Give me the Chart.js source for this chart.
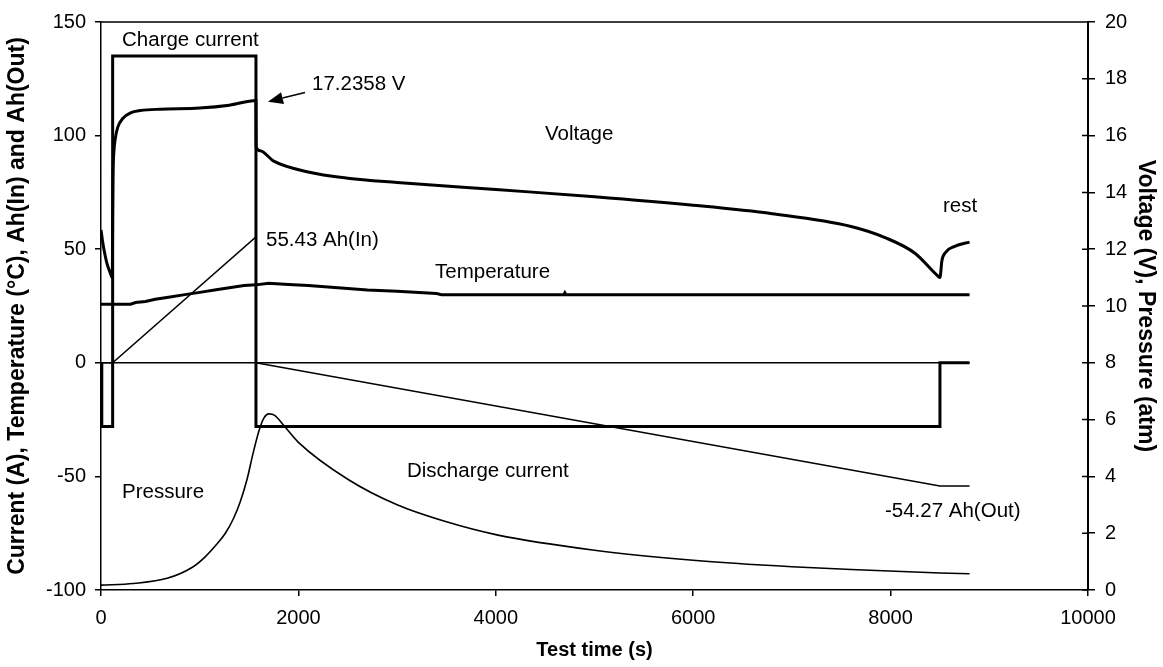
<!DOCTYPE html>
<html>
<head>
<meta charset="utf-8">
<script src="https://cdn.jsdelivr.net/npm/chart.js@4.4.0/dist/chart.umd.min.js"></script>
<style>
  html, body { margin: 0; padding: 0; background: #fff; }
  #wrap { width: 1163px; height: 667px; }
</style>
</head>
<body>
<div id="wrap"><canvas id="chart" width="1163" height="667"></canvas></div>
<script>
// Test time (s) / value pairs
const currentTime = [0, 8, 8, 118, 118, 1570, 1570, 8500, 8500, 8800];
const currentVal  = [0, 0, -28, -28, 135, 135, -28, -28, 0, 0];

const ahInTime = [0, 118, 1570, 1570, 8800];
const ahInVal  = [0, 0, 55.43, 0, 0];

const ahOutTime = [0, 1570, 8500, 8800];
const ahOutVal  = [0, 0, -54.27, -54.27];

const tempTime = [0, 300, 350, 450, 550, 700, 850, 1000, 1150, 1300, 1450, 1570, 1700, 1900, 2100, 2400, 2700, 3000, 3400, 3450, 4690, 4700, 4710, 8800];
const tempVal  = [25.8, 25.8, 26.5, 27, 28, 29, 30, 31, 32, 33, 34, 34.3, 35, 34.5, 34, 33, 32, 31.5, 30.5, 30, 30, 30.8, 30, 30];

// right axis (V)
const voltTime = [0, 15, 35, 60, 90, 115, 118, 122, 130, 145, 170, 220, 300, 400, 600, 1000, 1300, 1570, 1572, 1611, 1750, 2087, 2500, 3000, 4000, 5000, 6000, 6800, 7600, 7950, 8250, 8480, 8500, 8520, 8560, 8650, 8800];
const voltVal  = [12.68, 12.3, 11.9, 11.5, 11.2, 11.0, 13.0, 14.6, 15.4, 15.9, 16.3, 16.6, 16.8, 16.88, 16.93, 16.97, 17.07, 17.2358, 15.6, 15.47, 15.1, 14.73, 14.5, 14.35, 14.1, 13.85, 13.55, 13.25, 12.8, 12.4, 11.85, 11.05, 11.0, 11.6, 11.9, 12.1, 12.25];

// right axis (atm)
const presTime = [0, 330, 670, 930, 1050, 1170, 1260, 1340, 1410, 1480, 1540, 1600, 1650, 1700, 1760, 1850, 2000, 2500, 3000, 3500, 4000, 5000, 6000, 7000, 7600, 8500, 8800];
const presVal  = [0.17, 0.23, 0.41, 0.81, 1.15, 1.6, 2.0, 2.5, 3.1, 3.9, 4.8, 5.6, 6.05, 6.2, 6.15, 5.8, 5.2, 3.9, 3.0, 2.4, 1.95, 1.4, 1.05, 0.82, 0.72, 0.6, 0.57];

// text labels, placed in (time, left-axis) coordinates
const noteText = ['Charge current', '17.2358 V', 'Voltage', 'rest', '55.43 Ah(In)', 'Temperature', 'Discharge current', 'Pressure', '-54.27 Ah(Out)'];
const noteX    = [213, 2138, 4498, 8531, 1672, 3384, 3100, 213, 7943];
const noteY    = [142, 122.5, 100.7, 68.8, 54.0, 39.6, -47.6, -57.2, -65.5];

// arrow to the end-of-charge voltage
const arrowX = [2067, 1692];
const arrowY = [119, 114.9];

function pairs(xs, ys) {
  return xs.map((x, i) => ({ x: x, y: ys[i] }));
}

const FONT = 'Liberation Sans, Arial, sans-serif';
Chart.defaults.font.family = FONT;
Chart.defaults.color = '#000';

const frameAndNotes = {
  id: 'frameAndNotes',
  afterDatasetsDraw(chart) {
    const ctx = chart.ctx;
    const a = chart.chartArea;
    const xs = chart.scales.x, ys = chart.scales.y, r = chart.scales.y2;
    ctx.save();
    ctx.strokeStyle = '#000';
    ctx.lineWidth = 1.5;
    ctx.beginPath();
    ctx.moveTo(a.left, a.top);
    ctx.lineTo(a.right, a.top);
    // right axis ticks cross the axis line
    r.ticks.forEach(t => {
      const py = r.getPixelForValue(t.value);
      ctx.moveTo(a.right - 6, py);
      ctx.lineTo(a.right, py);
    });
    ctx.stroke();

    ctx.fillStyle = '#000';
    ctx.font = '20.5px ' + FONT;
    ctx.textBaseline = 'middle';
    ctx.textAlign = 'left';
    noteText.forEach((t, i) => {
      ctx.fillText(t, xs.getPixelForValue(noteX[i]), ys.getPixelForValue(noteY[i]));
    });

    const x0 = xs.getPixelForValue(arrowX[0]), y0 = ys.getPixelForValue(arrowY[0]);
    const x1 = xs.getPixelForValue(arrowX[1]), y1 = ys.getPixelForValue(arrowY[1]);
    const ang = Math.atan2(y1 - y0, x1 - x0);
    const head = 15, half = 6;
    const bx = x1 - head * Math.cos(ang), by = y1 - head * Math.sin(ang);
    ctx.lineWidth = 1.5;
    ctx.beginPath();
    ctx.moveTo(x0, y0);
    ctx.lineTo(bx, by);
    ctx.stroke();
    ctx.beginPath();
    ctx.moveTo(x1, y1);
    ctx.lineTo(bx + half * Math.sin(ang), by - half * Math.cos(ang));
    ctx.lineTo(bx - half * Math.sin(ang), by + half * Math.cos(ang));
    ctx.closePath();
    ctx.fill();
    ctx.restore();
  }
};

function line(label, xs, ys, axis, width, smooth) {
  return {
    label: label,
    data: pairs(xs, ys),
    yAxisID: axis,
    showLine: true,
    borderColor: '#000',
    backgroundColor: '#000',
    borderWidth: width,
    pointRadius: 0,
    tension: smooth ? 0.4 : 0,
    cubicInterpolationMode: smooth ? 'monotone' : 'default',
    borderJoinStyle: 'miter',
    fill: false
  };
}

new Chart(document.getElementById('chart').getContext('2d'), {
  type: 'scatter',
  data: {
    datasets: [
      line('Ah(In)', ahInTime, ahInVal, 'y', 1.5, false),
      line('Ah(Out)', ahOutTime, ahOutVal, 'y', 1.5, false),
      line('Pressure', presTime, presVal, 'y2', 1.6, true),
      line('Temperature', tempTime, tempVal, 'y', 3, false),
      line('Voltage', voltTime, voltVal, 'y2', 3, true),
      line('Current', currentTime, currentVal, 'y', 3, false)
    ]
  },
  options: {
    responsive: false,
    animation: false,
    layout: { padding: { top: 17, left: 0, right: 0, bottom: 0 } },
    plugins: {
      legend: { display: false },
      tooltip: { enabled: false }
    },
    scales: {
      x: {
        type: 'linear',
        position: 'bottom',
        min: 0,
        max: 10000,
        ticks: { stepSize: 2000, font: { size: 20 }, padding: 10, maxRotation: 0, callback: v => String(v) },
        grid: { drawOnChartArea: false, drawTicks: true, tickLength: 6, color: '#000', lineWidth: 1.5 },
        border: { display: true, color: '#000', width: 1.5 },
        title: { display: true, text: 'Test time (s)', font: { size: 20, weight: 'bold' }, padding: { top: 0, bottom: 5 } },
        afterFit(s) { s.height = 77; }
      },
      y: {
        type: 'linear',
        position: 'left',
        min: -100,
        max: 150,
        ticks: { stepSize: 50, font: { size: 20 }, padding: 9 },
        grid: { drawOnChartArea: false, drawTicks: true, tickLength: 6, color: '#000', lineWidth: 1.5 },
        border: { display: true, color: '#000', width: 1.5 },
        title: { display: true, text: 'Current (A), Temperature (°C), Ah(In) and Ah(Out)', font: { size: 23, weight: 'bold' }, padding: { top: 4, bottom: 0 } },
        afterFit(s) { s.width = 101; }
      },
      y2: {
        type: 'linear',
        position: 'right',
        min: 0,
        max: 20,
        ticks: { stepSize: 2, font: { size: 20 }, padding: 10 },
        grid: { drawOnChartArea: false, drawTicks: true, tickLength: 7, color: '#000', lineWidth: 1.5 },
        border: { display: true, color: '#000', width: 2 },
        title: { display: true, text: 'Voltage (V), Pressure (atm)', font: { size: 23, weight: 'bold' }, padding: { top: 4, bottom: 0 } },
        afterFit(s) { s.width = 75; }
      }
    }
  },
  plugins: [frameAndNotes]
});
</script>
</body>
</html>
